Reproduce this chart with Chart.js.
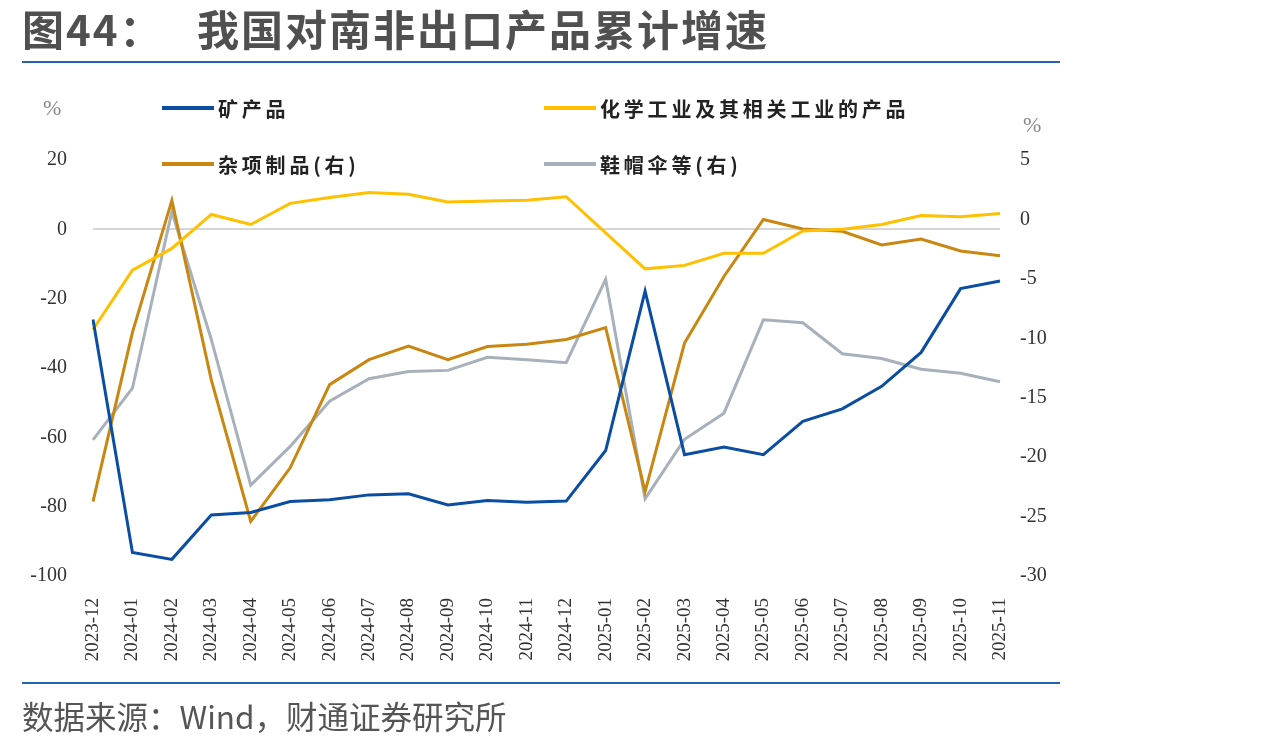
<!DOCTYPE html>
<html>
<head>
<meta charset="utf-8">
<script src="https://cdn.jsdelivr.net/npm/chart.js@4"></script>
<style>
body { margin: 0; background: #fff; }
#wrap { position: relative; width: 1275px; height: 748px; overflow: hidden; font-family: "Noto Sans CJK SC", sans-serif; }
#chart { position: absolute; left: 0; top: 0; }
.title { position: absolute; top: 2px; font-size: 42px; font-weight: bold; color: #505050; line-height: 52px; white-space: nowrap; letter-spacing: 2px; }
.rule { position: absolute; left: 22px; width: 1038px; height: 2px; background: #2563ad; }
.src { position: absolute; left: 22px; top: 695px; font-size: 31.5px; color: #555; line-height: 40px; white-space: nowrap; }
.unit { position: absolute; font-family: "Liberation Serif", serif; font-size: 22px; color: #888; line-height: 24px; }
.leg { position: absolute; display: flex; align-items: center; height: 24px; font-size: 20px; font-weight: bold; color: #222; letter-spacing: 3.8px; white-space: nowrap; }
.leg i { display: inline-block; width: 52px; height: 4px; margin-right: 4px; }
</style>
</head>
<body>
<div id="wrap">
  <canvas id="chart" width="1275" height="748"></canvas>
  <div class="title" style="left:22px">图44：</div>
  <div class="title" style="left:197px">我国对南非出口产品累计增速</div>
  <div class="rule" style="top:61px"></div>
  <div class="rule" style="top:682px"></div>
  <div class="src">数据来源：Wind，财通证券研究所</div>
  <div class="unit" style="left:43px;top:96px">%</div>
  <div class="unit" style="left:1023px;top:113px">%</div>
  <div id="legend"></div>
</div>
<script>
const labels = ['2023-12', '2024-01', '2024-02', '2024-03', '2024-04', '2024-05', '2024-06', '2024-07',
    '2024-08', '2024-09', '2024-10', '2024-11', '2024-12', '2025-01', '2025-02', '2025-03',
    '2025-04', '2025-05', '2025-06', '2025-07', '2025-08', '2025-09', '2025-10', '2025-11'];

// 左轴
const mining = [-26, -93.2, -95.2, -82.4, -81.7, -78.5, -78, -76.6, -76.3, -79.5, -78.2, -78.7,
    -78.4, -63.8, -17.8, -65, -62.8, -65, -55.4, -51.8, -45.3, -35.5, -17.1, -14.9];
const chemical = [-28.9, -11.8, -5.5, 4.3, 1.4, 7.5, 9.2, 10.6, 10.1, 7.9, 8.2, 8.4,
    9.4, -1, -11.4, -10.4, -6.9, -6.9, -0.5, 0, 1.4, 4.0, 3.6, 4.6];

// 右轴
const misc = [-23.75, -9.5, 1.6, -13.5, -25.4, -20.9, -13.9, -11.8, -10.65, -11.8, -10.7, -10.5,
    -10.1, -9.1, -22.9, -10.4, -4.8, 0, -0.8, -1.0, -2.15, -1.65, -2.66, -3.05];
const shoes = [-18.55, -14.2, 0.65, -10.1, -22.35, -19.1, -15.3, -13.4, -12.8, -12.7, -11.6, -11.8,
    -12.05, -5.05, -23.5, -18.5, -16.3, -8.45, -8.7, -11.3, -11.7, -12.6, -12.95, -13.65];

const leftMin = -100, leftMax = 20, leftStep = 20;
const rightMin = -30, rightMax = 5, rightStep = 5;

function line(label, data, color, axis) {
    return {
        label: label,
        data: data,
        yAxisID: axis,
        borderColor: color,
        backgroundColor: color,
        borderWidth: 3,
        pointRadius: 0,
        tension: 0,
        fill: false
    };
}

const datasets = [
    line('矿产品', mining, '#0a4da2', 'y'),
    line('化学工业及其相关工业的产品', chemical, '#ffc000', 'y'),
    line('杂项制品(右)', misc, '#c98712', 'y1'),
    line('鞋帽伞等(右)', shoes, '#a7b1bb', 'y1')
];

// 图例
const legendPos = [[162, 96], [544, 96], [162, 152], [544, 152]];
const legendBox = document.getElementById('legend');
datasets.forEach((ds, i) => {
    const item = document.createElement('div');
    item.className = 'leg';
    item.style.left = legendPos[i][0] + 'px';
    item.style.top = legendPos[i][1] + 'px';
    item.innerHTML = '<i style="background:' + ds.borderColor + '"></i>' + ds.label;
    legendBox.appendChild(item);
});

const tickFont = { family: 'Liberation Serif', size: 20 };

new Chart(document.getElementById('chart').getContext('2d'), {
    type: 'line',
    data: { labels: labels, datasets: datasets },
    options: {
        responsive: false,
        animation: false,
        layout: { padding: { top: 160, left: 0, right: 0, bottom: 0 } },
        plugins: { legend: { display: false }, tooltip: { enabled: false } },
        scales: {
            x: {
                offset: false,
                grid: { display: false },
                border: { display: false },
                ticks: {
                    autoSkip: false,
                    minRotation: 90,
                    maxRotation: 90,
                    padding: 14,
                    color: '#333',
                    font: { family: 'Liberation Serif', size: 19 }
                },
                afterFit: s => { s.height = 172; }
            },
            y: {
                position: 'left',
                min: leftMin,
                max: leftMax,
                ticks: { stepSize: leftStep, padding: 26, color: '#333', font: tickFont },
                grid: {
                    drawTicks: false,
                    lineWidth: 2,
                    color: c => (c.tick && c.tick.value === 0 ? '#d6d6d6' : 'rgba(0,0,0,0)')
                },
                border: { display: false },
                afterFit: s => { s.width = 93; }
            },
            y1: {
                position: 'right',
                min: rightMin,
                max: rightMax,
                ticks: { stepSize: rightStep, padding: 20, color: '#333', font: tickFont },
                grid: { display: false, drawTicks: false },
                border: { display: false },
                afterFit: s => { s.width = 275; }
            }
        }
    }
});
</script>
</body>
</html>
